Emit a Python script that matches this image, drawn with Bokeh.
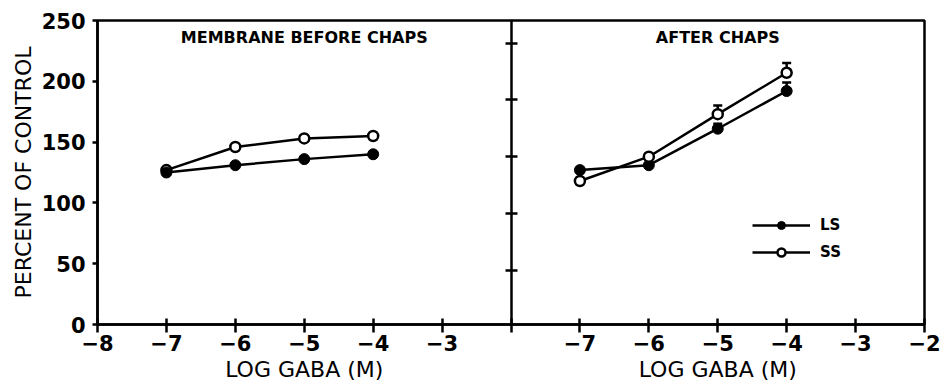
from bokeh.plotting import figure
from bokeh.models import (Range1d, LinearAxis, FixedTicker, Label, Legend, LegendItem,
                          Whisker, TeeHead, ColumnDataSource)
from bokeh.embed import file_html
from bokeh.resources import INLINE

# ---------------- data ----------------
log_gaba = [-7, -6, -5, -4]
before_ls = [125, 131, 136, 140]
before_ss = [127, 146, 153, 155]
after_ls = [127, 131, 161, 192]
after_ss = [118, 138, 173, 207]
after_ls_err = [0, 0, 4, 7]
after_ss_err = [0, 0, 7, 8]

y_ticks = [0, 50, 100, 150, 200, 250]
before_x_ticks = [-8, -7, -6, -5, -4, -3, -2]
after_x_ticks = [-7, -6, -5, -4, -3, -2]
after_y_ticks = [44, 91, 138, 185, 231]
panel_titles = ["MEMBRANE BEFORE CHAPS", "AFTER CHAPS"]
series_names = ["LS", "SS"]
x_label = "LOG GABA (M)"
y_label = "PERCENT OF CONTROL"

FONT = "DejaVu Sans"
LW = 2.5

# both panels share one frame: left panel is x in [-8, -2], right panel uses the "after" range
panel_start, panel_end = before_x_ticks[0], before_x_ticks[-1]
offset = panel_end - panel_start

p = figure(width=944, height=388, x_range=Range1d(panel_start, panel_end + offset),
           y_range=Range1d(y_ticks[0], y_ticks[-1]),
           output_backend="svg", toolbar_location=None,
           x_axis_type=None, y_axis_type=None,
           min_border_left=97, min_border_right=20, min_border_top=20, min_border_bottom=64)
p.extra_x_ranges = {"after": Range1d(panel_start - offset, panel_end)}
p.grid.visible = False
p.outline_line_color = "black"
p.outline_line_width = LW
p.background_fill_color = "white"
p.border_fill_color = "white"


def minus(t):
    return ("\u2212" + str(abs(t))) if t < 0 else str(t)


def style_axis(ax):
    ax.axis_line_width = LW
    ax.axis_line_color = "black"
    ax.major_tick_line_width = LW
    ax.major_tick_line_color = "black"
    ax.minor_tick_line_color = None
    ax.major_label_text_font = FONT
    ax.major_label_text_font_style = "bold"
    ax.major_label_text_font_size = "21px"
    ax.major_label_text_color = "black"
    ax.axis_label_text_font = FONT
    ax.axis_label_text_font_style = "normal"
    ax.axis_label_text_font_size = "22px"
    ax.axis_label_text_color = "black"


# main y axis
yax = LinearAxis(ticker=FixedTicker(ticks=y_ticks), axis_label=y_label)
style_axis(yax)
yax.major_tick_in = 0
yax.major_tick_out = 5
yax.major_label_standoff = 7
yax.axis_label_standoff = 3
p.add_layout(yax, "left")

# divider = right panel's y axis (ticks only)
yax2 = LinearAxis(ticker=FixedTicker(ticks=after_y_ticks), fixed_location=panel_end,
                  major_label_overrides={t: "" for t in after_y_ticks})
style_axis(yax2)
yax2.major_tick_in = 6
yax2.major_tick_out = 6
yax2.major_label_text_color = None
yax2.major_label_standoff = 0
p.add_layout(yax2, "left")

# bottom axis with the ticks of both panels
tick_pos = list(before_x_ticks) + [t + offset for t in after_x_ticks]
tick_text = {t: minus(t) for t in before_x_ticks}
tick_text[panel_end] = ""
for t in after_x_ticks:
    tick_text[t + offset] = minus(t)
xax = LinearAxis(ticker=FixedTicker(ticks=tick_pos), major_label_overrides=tick_text)
style_axis(xax)
xax.major_tick_in = 6
xax.major_tick_out = 8
xax.major_label_standoff = 2
p.add_layout(xax, "below")

# second row below: the two "LOG GABA (M)" axis titles, centred under each panel
label_mid = (panel_start + panel_end) / 2
xlab_pos = [label_mid, label_mid + offset]
xlab = LinearAxis(ticker=FixedTicker(ticks=xlab_pos),
                  major_label_overrides={t: x_label for t in xlab_pos})
style_axis(xlab)
xlab.axis_line_color = None
xlab.major_tick_line_color = None
xlab.major_tick_in = 0
xlab.major_tick_out = 0
xlab.major_label_standoff = 3
xlab.major_label_text_font_style = "normal"
xlab.major_label_text_font_size = "22px"
p.add_layout(xlab, "below")

# ---------------- left panel ----------------
p.line(log_gaba, before_ss, line_width=LW, color="black")
p.scatter(log_gaba, before_ss, size=10, fill_color="white", line_color="black", line_width=LW)
p.line(log_gaba, before_ls, line_width=LW, color="black")
p.scatter(log_gaba, before_ls, size=11, color="black")

# ---------------- right panel ----------------
def whisker_for(vals, errs):
    xs = [x for x, e in zip(log_gaba, errs) if e > 0]
    lo = [v for v, e in zip(vals, errs) if e > 0]
    hi = [v + e for v, e in zip(vals, errs) if e > 0]
    src = ColumnDataSource(dict(x=xs, lower=lo, upper=hi))
    w = Whisker(base="x", lower="lower", upper="upper", source=src, dimension="height",
                x_range_name="after", line_width=LW, line_color="black",
                upper_head=TeeHead(size=9, line_width=LW, line_color="black"), lower_head=None)
    p.add_layout(w)

whisker_for(after_ls, after_ls_err)
whisker_for(after_ss, after_ss_err)

ls_line = p.line(log_gaba, after_ls, line_width=LW, color="black", x_range_name="after")
ls_pts = p.scatter(log_gaba, after_ls, size=11, color="black", x_range_name="after")
ss_line = p.line(log_gaba, after_ss, line_width=LW, color="black", x_range_name="after")
ss_pts = p.scatter(log_gaba, after_ss, size=10, fill_color="white", line_color="black",
                   line_width=LW, x_range_name="after")

# ---------------- panel titles ----------------
p.add_layout(Label(x=label_mid, y=236, text=panel_titles[0], text_align="center", text_baseline="middle",
                   text_font=FONT, text_font_style="bold", text_font_size="16px", text_color="black"))
p.add_layout(Label(x=label_mid, y=236, x_range_name="after", text=panel_titles[1], text_align="center",
                   text_baseline="middle", text_font=FONT, text_font_style="bold",
                   text_font_size="16px", text_color="black"))

# ---------------- legend ----------------
legend = Legend(items=[LegendItem(label=series_names[0], renderers=[ls_line, ls_pts]),
                       LegendItem(label=series_names[1], renderers=[ss_line, ss_pts])],
                location=(655, 62), border_line_color=None, background_fill_alpha=0,
                padding=0, margin=0, spacing=7, glyph_width=58, glyph_height=20,
                label_standoff=10, label_height=20, label_text_font=FONT,
                label_text_color="black",
                label_text_font_style="bold", label_text_font_size="15px")
p.add_layout(legend)

open("out.html", "w").write(file_html(p, INLINE))
